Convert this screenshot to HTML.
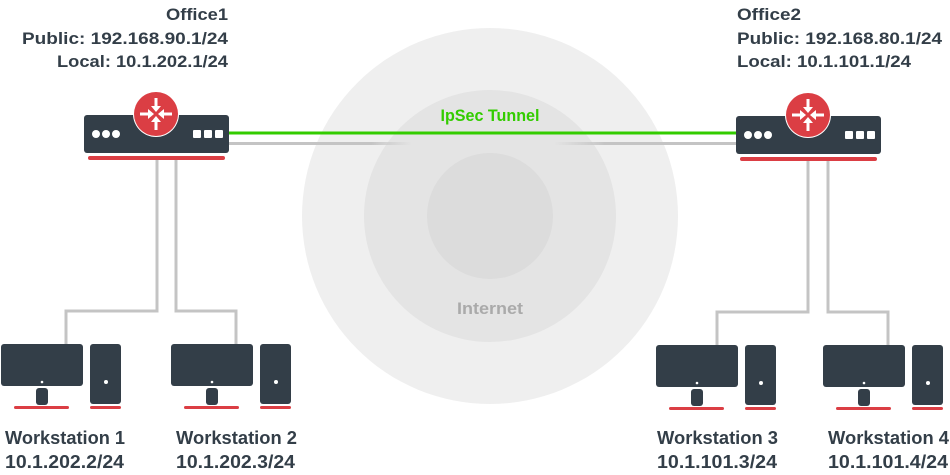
<!DOCTYPE html>
<html><head><meta charset="utf-8"><style>html,body{margin:0;padding:0;background:#fff}svg{display:block}</style></head>
<body>
<svg width="950" height="475" viewBox="0 0 950 475" xmlns="http://www.w3.org/2000/svg" font-family="Liberation Sans, sans-serif" font-weight="bold">
<defs>
<linearGradient id="gl" x1="229" y1="0" x2="737" y2="0" gradientUnits="userSpaceOnUse">
<stop offset="0" stop-color="#c4c4c4"/><stop offset="0.28" stop-color="#c4c4c4"/><stop offset="0.36" stop-color="#c4c4c4" stop-opacity="0"/>
<stop offset="0.64" stop-color="#c4c4c4" stop-opacity="0"/><stop offset="0.74" stop-color="#c4c4c4"/><stop offset="1" stop-color="#c4c4c4"/></linearGradient>
<g id="router">
<rect x="0" y="0" width="145" height="38" rx="3" fill="#333e48"/>
<rect x="4" y="41" width="137" height="4" rx="2" fill="#db3e44"/>
<circle cx="12" cy="19" r="4" fill="#fff"/><circle cx="22" cy="19" r="4" fill="#fff"/><circle cx="32" cy="19" r="4" fill="#fff"/>
<rect x="109" y="15" width="8" height="8" rx="1" fill="#fff"/><rect x="120" y="15" width="8" height="8" rx="1" fill="#fff"/><rect x="131" y="15" width="8" height="8" rx="1" fill="#fff"/>
<circle cx="72" cy="-1" r="23" fill="#fff"/><circle cx="72" cy="-1" r="22" fill="#db3e44"/>
<g stroke="#fff" stroke-width="3" fill="#fff">
<line x1="72" y1="-17" x2="72" y2="-8"/><polygon points="67,-9 77,-9 72,-3" stroke="none"/>
<line x1="72" y1="15" x2="72" y2="6"/><polygon points="67,7 77,7 72,1" stroke="none"/>
<line x1="56" y1="-1" x2="65" y2="-1"/><polygon points="64,-6 64,4 70,-1" stroke="none"/>
<line x1="88" y1="-1" x2="79" y2="-1"/><polygon points="80,-6 80,4 74,-1" stroke="none"/>
</g></g>
<g id="ws">
<rect x="0" y="0" width="82" height="42" rx="3" fill="#333e48"/>
<circle cx="41" cy="38" r="1.3" fill="#fff"/>
<rect x="35" y="44" width="12" height="17" rx="3" fill="#333e48"/>
<rect x="13" y="62" width="55" height="3" rx="1.5" fill="#db3e44"/>
<rect x="89" y="0" width="31" height="60" rx="3" fill="#333e48"/>
<circle cx="105" cy="38" r="2" fill="#fff"/>
<rect x="89" y="62" width="31" height="3" rx="1.5" fill="#db3e44"/>
</g>
</defs>
<circle cx="490" cy="216" r="188" fill="#efefef"/>
<circle cx="490" cy="216" r="126" fill="#e4e4e4"/>
<circle cx="490" cy="216" r="63" fill="#dcdcdc"/>
<text x="490" y="314" text-anchor="middle" font-size="17" fill="#aaaaaa" textLength="66" lengthAdjust="spacingAndGlyphs">Internet</text>
<text x="490" y="121" text-anchor="middle" font-size="17" fill="#33cc00" textLength="99" lengthAdjust="spacingAndGlyphs">IpSec Tunnel</text>
<line x1="229" y1="133" x2="737" y2="133" stroke="#33cc00" stroke-width="3"/>
<rect x="229" y="142" width="508" height="3" fill="url(#gl)"/>
<g fill="none" stroke="#c4c4c4" stroke-width="3">
<polyline points="157,158 157,311 66,311 66,344"/>
<polyline points="176,158 176,311 236,311 236,344"/>
<polyline points="808,160 808,312 717,312 717,345"/>
<polyline points="828,160 828,312 888,312 888,345"/>
</g>
<use href="#router" x="84" y="115"/>
<use href="#router" x="736" y="116"/>
<use href="#ws" x="1" y="344"/>
<use href="#ws" x="171" y="344"/>
<use href="#ws" x="656" y="345"/>
<use href="#ws" x="823" y="345"/>
<g fill="#333e48" font-size="17" lengthAdjust="spacingAndGlyphs">
<text x="228" y="20" text-anchor="end" textLength="62" lengthAdjust="spacingAndGlyphs">Office1</text>
<text x="228" y="44" text-anchor="end" textLength="206" lengthAdjust="spacingAndGlyphs">Public: 192.168.90.1/24</text>
<text x="228" y="67" text-anchor="end" textLength="171" lengthAdjust="spacingAndGlyphs">Local: 10.1.202.1/24</text>
<text x="737" y="20" textLength="64" lengthAdjust="spacingAndGlyphs">Office2</text>
<text x="737" y="44" textLength="205" lengthAdjust="spacingAndGlyphs">Public: 192.168.80.1/24</text>
<text x="737" y="67" textLength="174" lengthAdjust="spacingAndGlyphs">Local: 10.1.101.1/24</text>
</g>
<g fill="#333e48" font-size="18">
<text x="5" y="444" textLength="120" lengthAdjust="spacingAndGlyphs">Workstation 1</text>
<text x="5" y="468" textLength="119" lengthAdjust="spacingAndGlyphs">10.1.202.2/24</text>
<text x="176" y="444" textLength="121" lengthAdjust="spacingAndGlyphs">Workstation 2</text>
<text x="176" y="468" textLength="119" lengthAdjust="spacingAndGlyphs">10.1.202.3/24</text>
<text x="657" y="444" textLength="121" lengthAdjust="spacingAndGlyphs">Workstation 3</text>
<text x="657" y="468" textLength="120" lengthAdjust="spacingAndGlyphs">10.1.101.3/24</text>
<text x="828" y="444" textLength="121" lengthAdjust="spacingAndGlyphs">Workstation 4</text>
<text x="828" y="468" textLength="120" lengthAdjust="spacingAndGlyphs">10.1.101.4/24</text>
</g>
</svg>
</body></html>
